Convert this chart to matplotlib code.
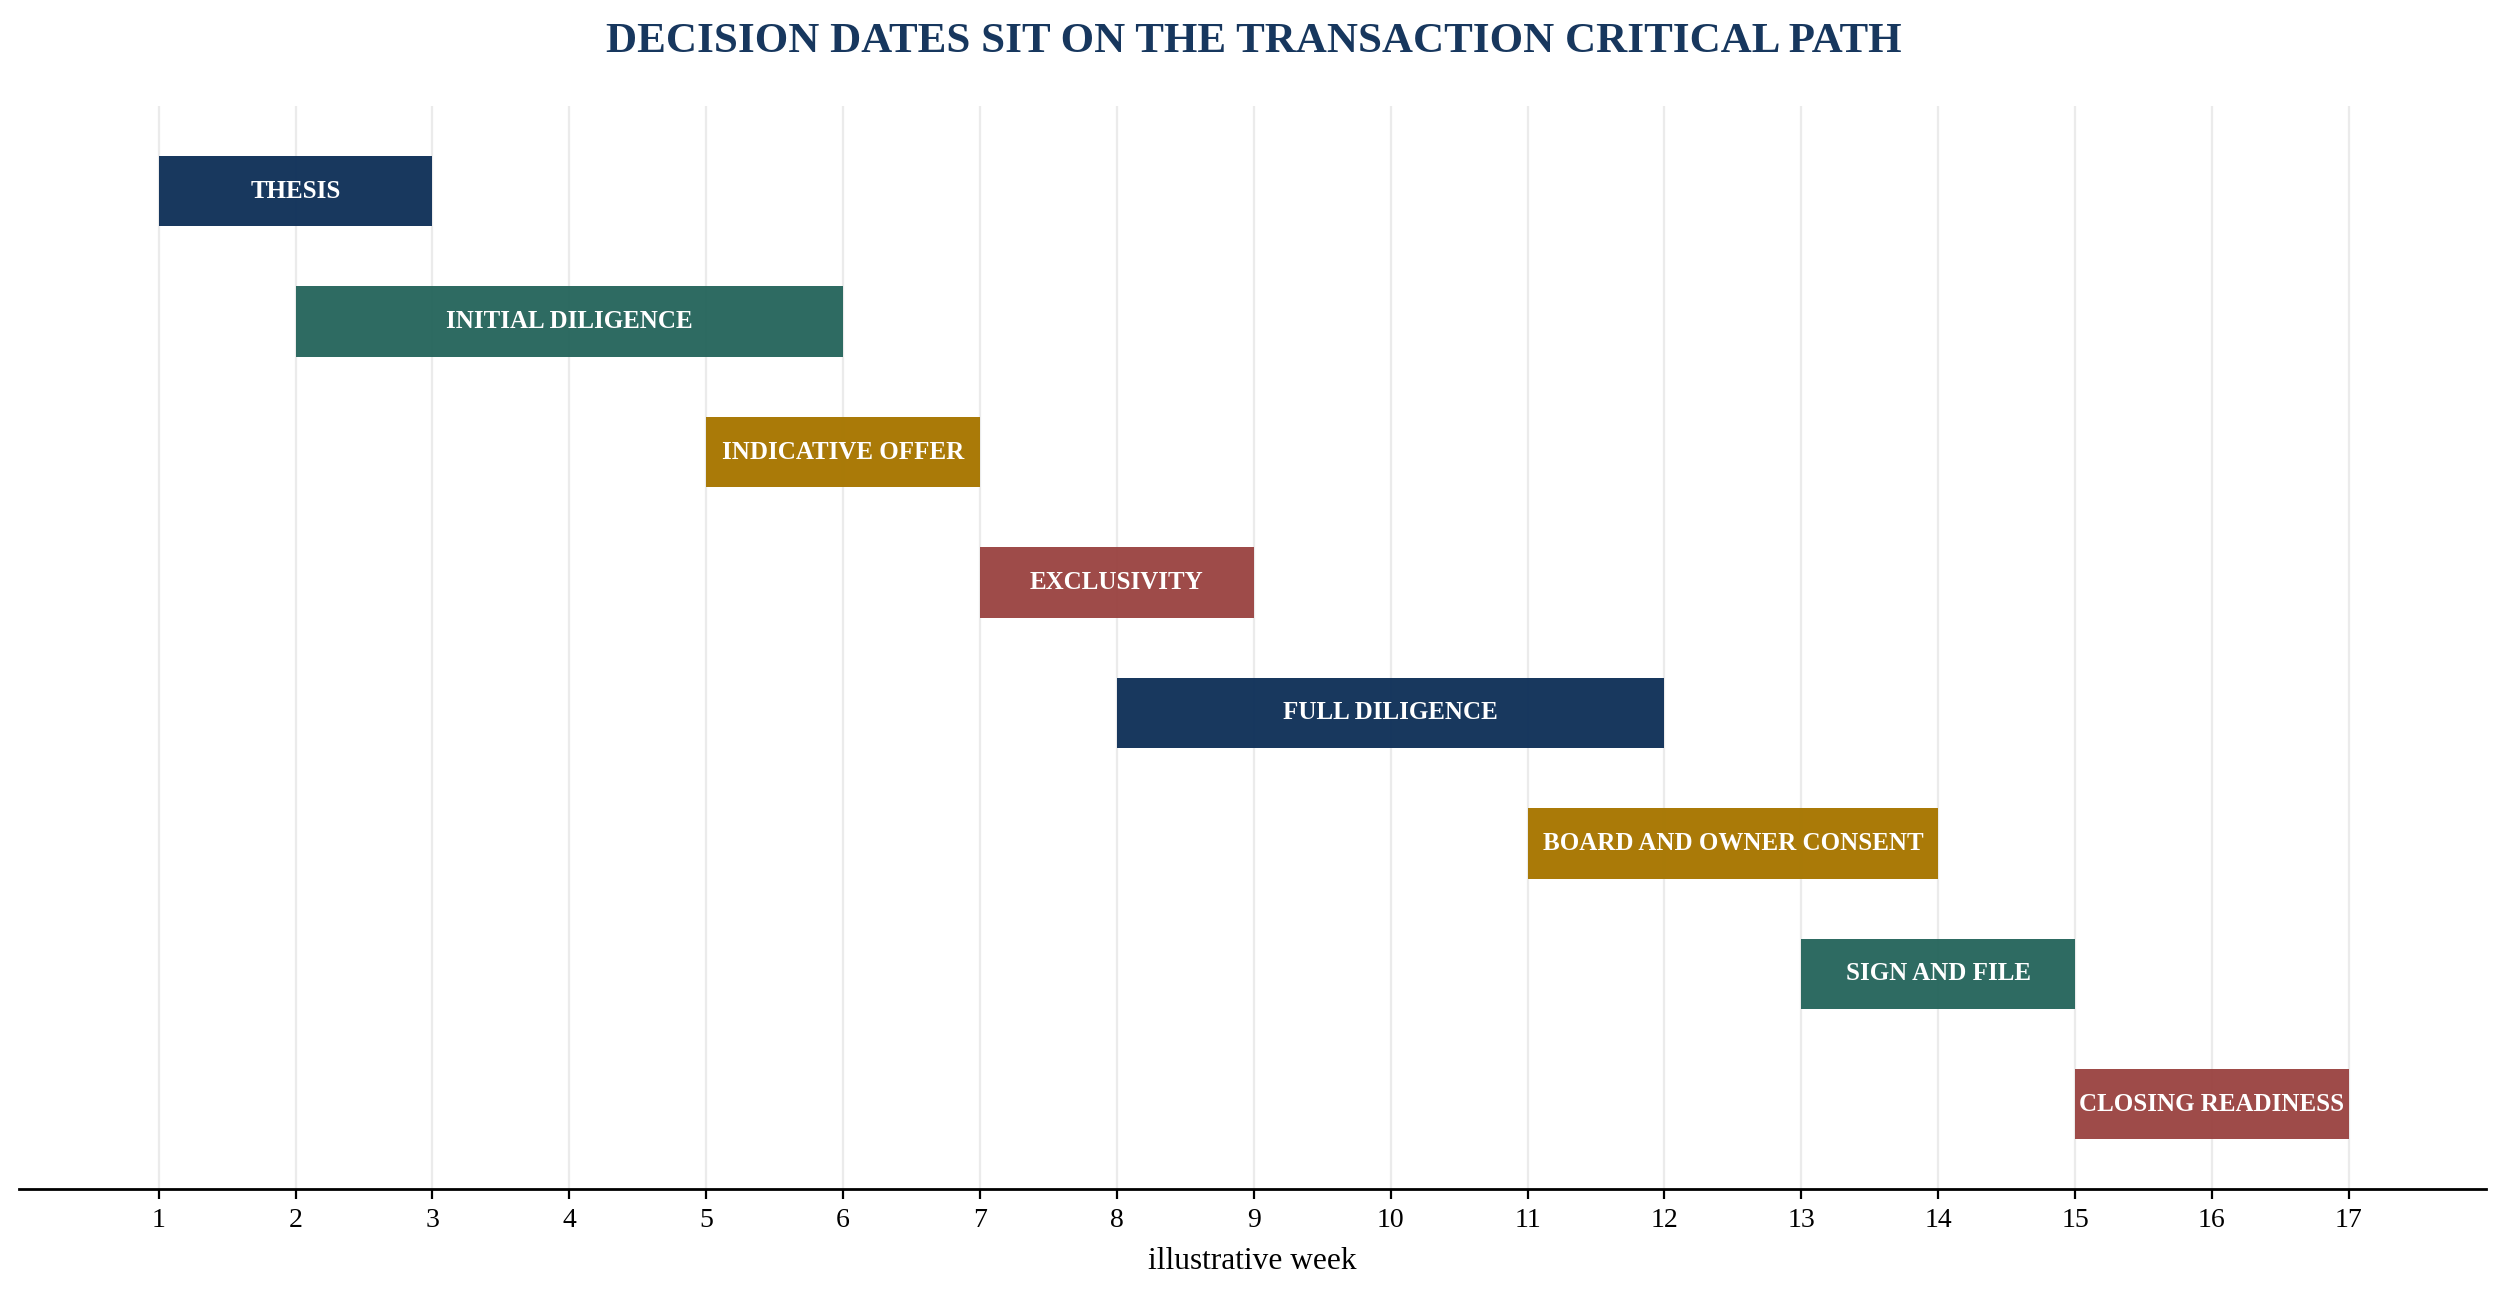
import matplotlib
matplotlib.use("Agg")
import matplotlib.pyplot as plt

# chart data
phases = ["THESIS", "INITIAL DILIGENCE", "INDICATIVE OFFER", "EXCLUSIVITY",
          "FULL DILIGENCE", "BOARD AND OWNER CONSENT", "SIGN AND FILE",
          "CLOSING READINESS"]
start_week = [1, 2, 5, 7, 8, 11, 13, 15]
end_week = [3, 6, 7, 9, 12, 14, 15, 17]
bar_colors = ["#103159", "#27665D", "#A77600", "#9B4543",
              "#103159", "#A77600", "#27665D", "#9B4543"]
week_ticks = list(range(1, 18))

plt.rcParams["font.family"] = ["Liberation Serif", "DejaVu Serif"]

fig = plt.figure(figsize=(12.54, 6.49), dpi=200)
ax = fig.add_axes([0.0076, 0.084, 0.9835, 0.834])

durations = [e - s for s, e in zip(start_week, end_week)]
ax.barh(range(len(phases)), durations, left=start_week, height=0.54,
        color=bar_colors, alpha=0.97, zorder=2)

for i, name in enumerate(phases):
    mid = (start_week[i] + end_week[i]) / 2
    ax.text(mid, i, name, ha="center", va="center", color="white",
            fontsize=9, fontweight="bold", zorder=3)

ax.set_xlim(-0.02, 18)
ax.set_ylim(7.65, -0.65)
ax.set_xticks(week_ticks)
ax.set_yticks([])
ax.grid(axis="x", color="#EBEBEB", linewidth=0.8, zorder=0)
ax.set_axisbelow(True)

for side in ["top", "right", "left"]:
    ax.spines[side].set_visible(False)
ax.spines["bottom"].set_linewidth(1.0)
ax.tick_params(axis="x", labelsize=10, length=3.5, width=0.8)
ax.set_xlabel("illustrative week", fontsize=11.3, labelpad=5)

fig.text(0.5, 0.968, "DECISION DATES SIT ON THE TRANSACTION CRITICAL PATH",
         ha="center", va="center", fontsize=15.5, fontweight="bold",
         color="#17375E")

fig.savefig("out.png", dpi=200)
